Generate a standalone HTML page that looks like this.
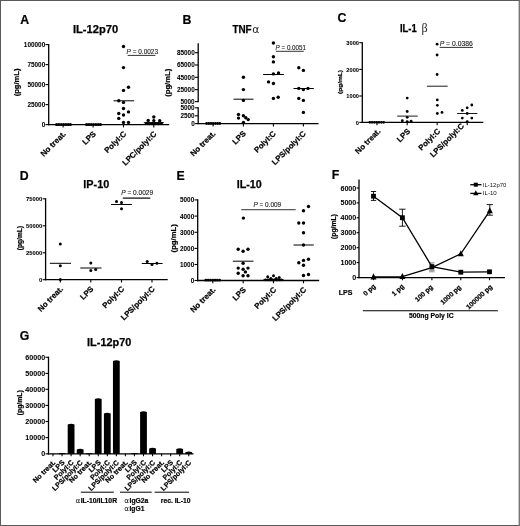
<!DOCTYPE html>
<html lang="en">
<head>
<meta charset="utf-8">
<title>Figure: cytokine production</title>
<style>
html,body{margin:0;padding:0;background:#fff;}
body{width:520px;height:526px;overflow:hidden;position:relative;}
.frame{position:absolute;left:0;top:0;width:518px;height:524px;border:1px solid #5a5a5a;border-right-color:#777;box-shadow:inset -1px 0 0 #c6c6c6;}
svg{position:absolute;left:0;top:0;display:block;font-family:"Liberation Sans",Arial,sans-serif;filter:blur(0.35px);}
</style>
</head>
<body>
<div class="frame"></div>
<svg width="520" height="526" viewBox="0 0 520 526">
<text x="20.30" y="23.80" font-size="12.3" text-anchor="start" font-weight="bold" fill="#000"  stroke="#000" stroke-width="0.2">A</text>
<text x="72.90" y="33.20" font-size="11.0" font-weight="bold" textLength="45.30" lengthAdjust="spacingAndGlyphs" stroke="#000" stroke-width="0.25">IL-12p70</text>
<line x1="48.70" y1="43.95" x2="48.70" y2="125.25" stroke="#000" stroke-width="1.3"/>
<line x1="45.50" y1="44.60" x2="48.70" y2="44.60" stroke="#000" stroke-width="1.1"/>
<text transform="translate(45.20,47.02) scale(0.94,1)" font-size="6.82" text-anchor="end" font-weight="bold" stroke="#000" stroke-width="0.06">100000</text>
<line x1="45.50" y1="64.60" x2="48.70" y2="64.60" stroke="#000" stroke-width="1.1"/>
<text transform="translate(45.20,67.02) scale(0.94,1)" font-size="6.82" text-anchor="end" font-weight="bold" stroke="#000" stroke-width="0.06">75000</text>
<line x1="45.50" y1="84.60" x2="48.70" y2="84.60" stroke="#000" stroke-width="1.1"/>
<text transform="translate(45.20,87.02) scale(0.94,1)" font-size="6.82" text-anchor="end" font-weight="bold" stroke="#000" stroke-width="0.06">50000</text>
<line x1="45.50" y1="104.60" x2="48.70" y2="104.60" stroke="#000" stroke-width="1.1"/>
<text transform="translate(45.20,107.02) scale(0.94,1)" font-size="6.82" text-anchor="end" font-weight="bold" stroke="#000" stroke-width="0.06">25000</text>
<line x1="45.50" y1="124.60" x2="48.70" y2="124.60" stroke="#000" stroke-width="1.1"/>
<text transform="translate(45.20,127.02) scale(0.94,1)" font-size="6.82" text-anchor="end" font-weight="bold" stroke="#000" stroke-width="0.06">0</text>
<line x1="48.05" y1="124.60" x2="169.20" y2="124.60" stroke="#000" stroke-width="1.3"/>
<line x1="63.10" y1="124.60" x2="63.10" y2="127.40" stroke="#000" stroke-width="1.1"/>
<line x1="93.10" y1="124.60" x2="93.10" y2="127.40" stroke="#000" stroke-width="1.1"/>
<line x1="123.50" y1="124.60" x2="123.50" y2="127.40" stroke="#000" stroke-width="1.1"/>
<line x1="153.80" y1="124.60" x2="153.80" y2="127.40" stroke="#000" stroke-width="1.1"/>
<text transform="translate(19.40,96.30) rotate(-90)" font-size="7.3" font-weight="bold" textLength="27.80" lengthAdjust="spacingAndGlyphs" stroke="#000" stroke-width="0.2">(pg/mL)</text>
<circle cx="56.60" cy="124.50" r="1.6"/>
<circle cx="58.90" cy="124.50" r="1.6"/>
<circle cx="61.20" cy="124.50" r="1.6"/>
<circle cx="63.50" cy="124.50" r="1.6"/>
<circle cx="65.80" cy="124.50" r="1.6"/>
<circle cx="68.10" cy="124.50" r="1.6"/>
<circle cx="70.40" cy="124.50" r="1.6"/>
<circle cx="86.60" cy="124.50" r="1.6"/>
<circle cx="88.90" cy="124.50" r="1.6"/>
<circle cx="91.20" cy="124.50" r="1.6"/>
<circle cx="93.50" cy="124.50" r="1.6"/>
<circle cx="95.80" cy="124.50" r="1.6"/>
<circle cx="98.10" cy="124.50" r="1.6"/>
<circle cx="100.40" cy="124.50" r="1.6"/>
<circle cx="123.50" cy="46.50" r="1.7"/>
<circle cx="123.50" cy="67.60" r="1.7"/>
<circle cx="128.50" cy="87.30" r="1.7"/>
<circle cx="123.50" cy="90.40" r="1.7"/>
<circle cx="118.80" cy="100.80" r="1.7"/>
<circle cx="123.50" cy="102.40" r="1.7"/>
<circle cx="123.50" cy="108.50" r="1.7"/>
<circle cx="128.50" cy="111.90" r="1.7"/>
<circle cx="118.80" cy="113.50" r="1.7"/>
<circle cx="123.50" cy="115.00" r="1.7"/>
<circle cx="118.80" cy="118.40" r="1.7"/>
<circle cx="123.50" cy="122.40" r="1.7"/>
<circle cx="128.50" cy="122.40" r="1.7"/>
<line x1="113.50" y1="100.80" x2="134.20" y2="100.80" stroke="#000" stroke-width="1.0"/>
<circle cx="153.80" cy="117.00" r="1.7"/>
<circle cx="148.20" cy="120.40" r="1.7"/>
<circle cx="153.80" cy="120.60" r="1.7"/>
<circle cx="159.70" cy="120.80" r="1.7"/>
<circle cx="146.60" cy="123.40" r="1.7"/>
<circle cx="149.50" cy="123.60" r="1.7"/>
<circle cx="152.30" cy="123.60" r="1.7"/>
<circle cx="155.30" cy="123.60" r="1.7"/>
<circle cx="158.20" cy="123.60" r="1.7"/>
<circle cx="161.30" cy="123.40" r="1.7"/>
<line x1="143.80" y1="122.70" x2="163.80" y2="122.70" stroke="#000" stroke-width="1.0"/>
<text x="126.60" y="53.80" font-size="6.5" fill="#1c1c1c" font-weight="normal" stroke="#1c1c1c" stroke-width="0.12" textLength="31.4" lengthAdjust="spacingAndGlyphs"><tspan font-style="italic">P</tspan> = 0.0023</text>
<line x1="127.70" y1="55.40" x2="155.40" y2="55.40" stroke="#1c1c1c" stroke-width="0.9"/>
<text transform="translate(66.40,134.40) rotate(-45)" font-size="7.9" text-anchor="end" font-weight="bold" fill="#000" stroke="#000" stroke-width="0.22">No treat.</text>
<text transform="translate(96.40,134.40) rotate(-45)" font-size="7.9" text-anchor="end" font-weight="bold" fill="#000" stroke="#000" stroke-width="0.22">LPS</text>
<text transform="translate(126.80,134.40) rotate(-45)" font-size="7.9" text-anchor="end" font-weight="bold" fill="#000" stroke="#000" stroke-width="0.22">PolyI:C</text>
<text transform="translate(157.10,134.40) rotate(-45)" font-size="7.9" text-anchor="end" font-weight="bold" fill="#000" stroke="#000" stroke-width="0.22">LPC/polyI:C</text>
<text x="182.50" y="23.80" font-size="12.3" text-anchor="start" font-weight="bold" fill="#000"  stroke="#000" stroke-width="0.2">B</text>
<text x="232.40" y="32.60" font-size="10.4" font-weight="bold" textLength="19.30" lengthAdjust="spacingAndGlyphs" stroke="#000" stroke-width="0.25">TNF</text>
<text x="252.3" y="32.6" font-size="10.8" fill="#222" font-family="DejaVu Sans, Liberation Sans, sans-serif">α</text>
<line x1="198.20" y1="43.30" x2="198.20" y2="102.20" stroke="#000" stroke-width="1.3"/>
<line x1="198.20" y1="107.20" x2="198.20" y2="124.25" stroke="#000" stroke-width="1.3"/>
<line x1="195.00" y1="52.70" x2="198.20" y2="52.70" stroke="#000" stroke-width="1.1"/>
<text transform="translate(194.70,55.12) scale(0.94,1)" font-size="6.82" text-anchor="end" font-weight="bold" stroke="#000" stroke-width="0.06">85000</text>
<line x1="195.00" y1="65.00" x2="198.20" y2="65.00" stroke="#000" stroke-width="1.1"/>
<text transform="translate(194.70,67.42) scale(0.94,1)" font-size="6.82" text-anchor="end" font-weight="bold" stroke="#000" stroke-width="0.06">65000</text>
<line x1="195.00" y1="77.30" x2="198.20" y2="77.30" stroke="#000" stroke-width="1.1"/>
<text transform="translate(194.70,79.72) scale(0.94,1)" font-size="6.82" text-anchor="end" font-weight="bold" stroke="#000" stroke-width="0.06">45000</text>
<line x1="195.00" y1="89.60" x2="198.20" y2="89.60" stroke="#000" stroke-width="1.1"/>
<text transform="translate(194.70,92.02) scale(0.94,1)" font-size="6.82" text-anchor="end" font-weight="bold" stroke="#000" stroke-width="0.06">25000</text>
<line x1="195.00" y1="101.60" x2="198.20" y2="101.60" stroke="#000" stroke-width="1.1"/>
<text transform="translate(194.70,104.02) scale(0.94,1)" font-size="6.82" text-anchor="end" font-weight="bold" stroke="#000" stroke-width="0.06">5000</text>
<line x1="195.00" y1="107.80" x2="198.20" y2="107.80" stroke="#000" stroke-width="1.1"/>
<text transform="translate(194.70,110.22) scale(0.94,1)" font-size="6.82" text-anchor="end" font-weight="bold" stroke="#000" stroke-width="0.06">5000</text>
<line x1="195.00" y1="115.80" x2="198.20" y2="115.80" stroke="#000" stroke-width="1.1"/>
<text transform="translate(194.70,118.22) scale(0.94,1)" font-size="6.82" text-anchor="end" font-weight="bold" stroke="#000" stroke-width="0.06">2500</text>
<line x1="195.00" y1="123.60" x2="198.20" y2="123.60" stroke="#000" stroke-width="1.1"/>
<text transform="translate(194.70,126.02) scale(0.94,1)" font-size="6.82" text-anchor="end" font-weight="bold" stroke="#000" stroke-width="0.06">0</text>
<line x1="197.55" y1="123.60" x2="318.50" y2="123.60" stroke="#000" stroke-width="1.3"/>
<line x1="213.10" y1="123.60" x2="213.10" y2="126.40" stroke="#000" stroke-width="1.1"/>
<line x1="243.40" y1="123.60" x2="243.40" y2="126.40" stroke="#000" stroke-width="1.1"/>
<line x1="273.40" y1="123.60" x2="273.40" y2="126.40" stroke="#000" stroke-width="1.1"/>
<line x1="303.40" y1="123.60" x2="303.40" y2="126.40" stroke="#000" stroke-width="1.1"/>
<text transform="translate(169.80,96.80) rotate(-90)" font-size="7.3" font-weight="bold" textLength="28.00" lengthAdjust="spacingAndGlyphs" stroke="#000" stroke-width="0.2">(pg/mL)</text>
<circle cx="206.60" cy="123.50" r="1.4"/>
<circle cx="208.80" cy="123.50" r="1.4"/>
<circle cx="211.00" cy="123.50" r="1.4"/>
<circle cx="213.20" cy="123.50" r="1.4"/>
<circle cx="215.40" cy="123.50" r="1.4"/>
<circle cx="217.60" cy="123.50" r="1.4"/>
<circle cx="219.80" cy="123.50" r="1.4"/>
<circle cx="243.40" cy="77.30" r="1.7"/>
<circle cx="243.40" cy="89.60" r="1.7"/>
<circle cx="243.40" cy="100.40" r="1.7"/>
<circle cx="238.50" cy="114.50" r="1.7"/>
<circle cx="243.40" cy="115.80" r="1.7"/>
<circle cx="238.50" cy="118.10" r="1.7"/>
<circle cx="245.80" cy="117.80" r="1.7"/>
<circle cx="248.20" cy="119.60" r="1.7"/>
<circle cx="243.40" cy="122.40" r="1.7"/>
<line x1="233.50" y1="99.20" x2="253.50" y2="99.20" stroke="#000" stroke-width="1.0"/>
<circle cx="273.40" cy="43.00" r="1.7"/>
<circle cx="273.40" cy="56.80" r="1.7"/>
<circle cx="273.40" cy="61.90" r="1.7"/>
<circle cx="273.40" cy="73.90" r="1.7"/>
<circle cx="278.50" cy="73.00" r="1.7"/>
<circle cx="268.50" cy="81.90" r="1.7"/>
<circle cx="273.40" cy="83.50" r="1.7"/>
<circle cx="273.40" cy="98.40" r="1.7"/>
<circle cx="278.20" cy="97.30" r="1.7"/>
<line x1="263.10" y1="74.50" x2="283.80" y2="74.50" stroke="#000" stroke-width="1.0"/>
<circle cx="298.80" cy="67.80" r="1.7"/>
<circle cx="303.40" cy="70.40" r="1.7"/>
<circle cx="298.80" cy="88.40" r="1.7"/>
<circle cx="303.40" cy="89.60" r="1.7"/>
<circle cx="308.00" cy="88.40" r="1.7"/>
<circle cx="298.80" cy="98.40" r="1.7"/>
<circle cx="303.40" cy="100.40" r="1.7"/>
<circle cx="303.40" cy="112.40" r="1.7"/>
<line x1="293.50" y1="88.50" x2="313.80" y2="88.50" stroke="#000" stroke-width="1.0"/>
<text x="275.60" y="49.90" font-size="6.5" fill="#1c1c1c" font-weight="normal" stroke="#1c1c1c" stroke-width="0.12" textLength="30.4" lengthAdjust="spacingAndGlyphs"><tspan font-style="italic">P</tspan> = 0.0051</text>
<line x1="275.80" y1="51.30" x2="303.80" y2="51.30" stroke="#1c1c1c" stroke-width="0.9"/>
<text transform="translate(216.10,134.10) rotate(-45)" font-size="7.9" text-anchor="end" font-weight="bold" fill="#000" stroke="#000" stroke-width="0.22">No treat.</text>
<text transform="translate(246.40,134.10) rotate(-45)" font-size="7.9" text-anchor="end" font-weight="bold" fill="#000" stroke="#000" stroke-width="0.22">LPS</text>
<text transform="translate(276.40,134.10) rotate(-45)" font-size="7.9" text-anchor="end" font-weight="bold" fill="#000" stroke="#000" stroke-width="0.22">PolyI:C</text>
<text transform="translate(306.40,134.10) rotate(-45)" font-size="7.9" text-anchor="end" font-weight="bold" fill="#000" stroke="#000" stroke-width="0.22">LPS/polyI:C</text>
<text x="337.60" y="21.80" font-size="12.3" text-anchor="start" font-weight="bold" fill="#000"  stroke="#000" stroke-width="0.2">C</text>
<text x="399.90" y="31.80" font-size="10.0" font-weight="bold" textLength="16.80" lengthAdjust="spacingAndGlyphs" stroke="#000" stroke-width="0.25">IL-1</text>
<text x="421.6" y="31.8" font-size="12" font-family="Liberation Serif, serif" fill="#222">β</text>
<line x1="362.30" y1="42.15" x2="362.30" y2="122.95" stroke="#000" stroke-width="1.3"/>
<line x1="359.30" y1="42.70" x2="362.30" y2="42.70" stroke="#000" stroke-width="1.1"/>
<text transform="translate(359.00,44.85) scale(0.94,1)" font-size="6.05" text-anchor="end" font-weight="bold" stroke="#000" stroke-width="0.06">3000</text>
<line x1="359.30" y1="69.40" x2="362.30" y2="69.40" stroke="#000" stroke-width="1.1"/>
<text transform="translate(359.00,71.55) scale(0.94,1)" font-size="6.05" text-anchor="end" font-weight="bold" stroke="#000" stroke-width="0.06">2000</text>
<line x1="359.30" y1="96.00" x2="362.30" y2="96.00" stroke="#000" stroke-width="1.1"/>
<text transform="translate(359.00,98.15) scale(0.94,1)" font-size="6.05" text-anchor="end" font-weight="bold" stroke="#000" stroke-width="0.06">1000</text>
<line x1="359.30" y1="122.40" x2="362.30" y2="122.40" stroke="#000" stroke-width="1.1"/>
<text transform="translate(359.00,124.55) scale(0.94,1)" font-size="6.05" text-anchor="end" font-weight="bold" stroke="#000" stroke-width="0.06">0</text>
<line x1="361.75" y1="122.40" x2="483.30" y2="122.40" stroke="#000" stroke-width="1.3"/>
<line x1="377.00" y1="122.40" x2="377.00" y2="125.20" stroke="#000" stroke-width="1.1"/>
<line x1="407.20" y1="122.40" x2="407.20" y2="125.20" stroke="#000" stroke-width="1.1"/>
<line x1="437.20" y1="122.40" x2="437.20" y2="125.20" stroke="#000" stroke-width="1.1"/>
<line x1="467.20" y1="122.40" x2="467.20" y2="125.20" stroke="#000" stroke-width="1.1"/>
<text transform="translate(342.00,94.00) rotate(-90)" font-size="6.2" font-weight="bold" textLength="24.00" lengthAdjust="spacingAndGlyphs" stroke="#000" stroke-width="0.2">(pg/mL)</text>
<circle cx="369.80" cy="122.30" r="1.35"/>
<circle cx="372.10" cy="122.30" r="1.35"/>
<circle cx="374.40" cy="122.30" r="1.35"/>
<circle cx="376.70" cy="122.30" r="1.35"/>
<circle cx="379.00" cy="122.30" r="1.35"/>
<circle cx="381.30" cy="122.30" r="1.35"/>
<circle cx="383.60" cy="122.30" r="1.35"/>
<circle cx="407.20" cy="98.10" r="1.4"/>
<circle cx="407.20" cy="111.50" r="1.4"/>
<circle cx="407.20" cy="117.30" r="1.4"/>
<circle cx="402.30" cy="120.70" r="1.4"/>
<circle cx="407.20" cy="121.60" r="1.4"/>
<circle cx="411.10" cy="121.20" r="1.4"/>
<line x1="397.20" y1="116.10" x2="417.70" y2="116.10" stroke="#000" stroke-width="0.9"/>
<circle cx="437.10" cy="44.20" r="1.4"/>
<circle cx="437.10" cy="55.00" r="1.4"/>
<circle cx="437.10" cy="74.50" r="1.4"/>
<circle cx="437.30" cy="99.90" r="1.4"/>
<circle cx="437.30" cy="105.30" r="1.4"/>
<circle cx="437.30" cy="113.50" r="1.4"/>
<circle cx="442.00" cy="112.40" r="1.4"/>
<line x1="426.90" y1="86.20" x2="447.70" y2="86.20" stroke="#000" stroke-width="0.9"/>
<circle cx="471.80" cy="105.00" r="1.4"/>
<circle cx="467.20" cy="107.80" r="1.4"/>
<circle cx="462.30" cy="110.40" r="1.4"/>
<circle cx="467.20" cy="113.50" r="1.4"/>
<circle cx="462.30" cy="118.10" r="1.4"/>
<circle cx="471.80" cy="118.10" r="1.4"/>
<circle cx="467.20" cy="121.60" r="1.4"/>
<line x1="457.20" y1="113.50" x2="477.40" y2="113.50" stroke="#000" stroke-width="0.9"/>
<text x="439.70" y="46.10" font-size="6.5" fill="#1c1c1c" font-weight="normal" stroke="#1c1c1c" stroke-width="0.12" textLength="33.1" lengthAdjust="spacingAndGlyphs"><tspan font-style="italic">P</tspan>  = 0.0386</text>
<line x1="439.70" y1="47.40" x2="473.00" y2="47.40" stroke="#1c1c1c" stroke-width="0.9"/>
<text transform="translate(381.00,131.80) rotate(-45)" font-size="7.9" text-anchor="end" font-weight="bold" fill="#000" stroke="#000" stroke-width="0.22">No treat.</text>
<text transform="translate(410.80,131.80) rotate(-45)" font-size="7.9" text-anchor="end" font-weight="bold" fill="#000" stroke="#000" stroke-width="0.22">LPS</text>
<text transform="translate(440.80,131.80) rotate(-45)" font-size="7.9" text-anchor="end" font-weight="bold" fill="#000" stroke="#000" stroke-width="0.22">PolyI:C</text>
<text transform="translate(464.50,126.50) rotate(-45)" font-size="7.9" text-anchor="end" font-weight="bold" fill="#000" stroke="#000" stroke-width="0.22">LPS/polyI:C</text>
<text x="19.80" y="179.50" font-size="12.3" text-anchor="start" font-weight="bold" fill="#000"  stroke="#000" stroke-width="0.2">D</text>
<text x="83.30" y="187.70" font-size="10.9" font-weight="bold" textLength="26.00" lengthAdjust="spacingAndGlyphs" stroke="#000" stroke-width="0.25">IP-10</text>
<line x1="45.60" y1="198.23" x2="45.60" y2="280.27" stroke="#000" stroke-width="1.3"/>
<line x1="42.60" y1="198.80" x2="45.60" y2="198.80" stroke="#000" stroke-width="1.1"/>
<text transform="translate(42.30,201.03) scale(0.94,1)" font-size="6.27" text-anchor="end" font-weight="bold" stroke="#000" stroke-width="0.06">75000</text>
<line x1="42.60" y1="225.80" x2="45.60" y2="225.80" stroke="#000" stroke-width="1.1"/>
<text transform="translate(42.30,228.03) scale(0.94,1)" font-size="6.27" text-anchor="end" font-weight="bold" stroke="#000" stroke-width="0.06">50000</text>
<line x1="42.60" y1="252.80" x2="45.60" y2="252.80" stroke="#000" stroke-width="1.1"/>
<text transform="translate(42.30,255.03) scale(0.94,1)" font-size="6.27" text-anchor="end" font-weight="bold" stroke="#000" stroke-width="0.06">25000</text>
<line x1="42.60" y1="279.70" x2="45.60" y2="279.70" stroke="#000" stroke-width="1.1"/>
<text transform="translate(42.30,281.93) scale(0.94,1)" font-size="6.27" text-anchor="end" font-weight="bold" stroke="#000" stroke-width="0.06">0</text>
<line x1="45.02" y1="279.70" x2="167.70" y2="279.70" stroke="#000" stroke-width="1.3"/>
<line x1="60.30" y1="279.70" x2="60.30" y2="282.50" stroke="#000" stroke-width="1.1"/>
<line x1="90.80" y1="279.70" x2="90.80" y2="282.50" stroke="#000" stroke-width="1.1"/>
<line x1="121.50" y1="279.70" x2="121.50" y2="282.50" stroke="#000" stroke-width="1.1"/>
<line x1="152.00" y1="279.70" x2="152.00" y2="282.50" stroke="#000" stroke-width="1.1"/>
<text transform="translate(21.80,250.30) rotate(-90)" font-size="6.4" font-weight="bold" textLength="24.40" lengthAdjust="spacingAndGlyphs" stroke="#000" stroke-width="0.2">(pg/mL)</text>
<circle cx="60.30" cy="243.90" r="1.5"/>
<circle cx="60.30" cy="265.70" r="1.5"/>
<circle cx="60.30" cy="279.60" r="1.5"/>
<line x1="49.80" y1="263.30" x2="71.00" y2="263.30" stroke="#000" stroke-width="1.0"/>
<circle cx="90.80" cy="263.10" r="1.5"/>
<circle cx="90.80" cy="270.40" r="1.5"/>
<circle cx="95.70" cy="269.60" r="1.5"/>
<line x1="80.30" y1="268.00" x2="101.50" y2="268.00" stroke="#000" stroke-width="1.0"/>
<circle cx="116.50" cy="201.50" r="1.5"/>
<circle cx="121.50" cy="202.40" r="1.5"/>
<circle cx="121.50" cy="208.80" r="1.5"/>
<line x1="111.10" y1="204.50" x2="131.80" y2="204.50" stroke="#000" stroke-width="1.0"/>
<circle cx="147.20" cy="261.50" r="1.5"/>
<circle cx="152.00" cy="264.50" r="1.5"/>
<circle cx="156.90" cy="263.20" r="1.5"/>
<line x1="141.80" y1="263.50" x2="162.60" y2="263.50" stroke="#000" stroke-width="1.0"/>
<text x="121.20" y="195.00" font-size="6.5" fill="#1c1c1c" font-weight="normal" stroke="#1c1c1c" stroke-width="0.12" textLength="32" lengthAdjust="spacingAndGlyphs"><tspan font-style="italic">P</tspan> = 0.0029</text>
<line x1="122.80" y1="198.10" x2="150.30" y2="198.10" stroke="#000" stroke-width="1.2"/>
<text transform="translate(63.60,289.50) rotate(-45)" font-size="7.9" text-anchor="end" font-weight="bold" fill="#000" stroke="#000" stroke-width="0.22">No treat.</text>
<text transform="translate(94.10,289.50) rotate(-45)" font-size="7.9" text-anchor="end" font-weight="bold" fill="#000" stroke="#000" stroke-width="0.22">LPS</text>
<text transform="translate(124.80,289.50) rotate(-45)" font-size="7.9" text-anchor="end" font-weight="bold" fill="#000" stroke="#000" stroke-width="0.22">PolyI:C</text>
<text transform="translate(155.30,289.50) rotate(-45)" font-size="7.9" text-anchor="end" font-weight="bold" fill="#000" stroke="#000" stroke-width="0.22">LPS/polyI:C</text>
<text x="176.60" y="180.20" font-size="12.3" text-anchor="start" font-weight="bold" fill="#000"  stroke="#000" stroke-width="0.2">E</text>
<text x="236.70" y="188.40" font-size="10.9" font-weight="bold" textLength="25.10" lengthAdjust="spacingAndGlyphs" stroke="#000" stroke-width="0.25">IL-10</text>
<line x1="197.70" y1="199.25" x2="197.70" y2="281.15" stroke="#000" stroke-width="1.3"/>
<line x1="194.50" y1="199.90" x2="197.70" y2="199.90" stroke="#000" stroke-width="1.1"/>
<text transform="translate(194.20,202.30) scale(0.94,1)" font-size="6.77" text-anchor="end" font-weight="bold" stroke="#000" stroke-width="0.06">5000</text>
<line x1="194.50" y1="216.10" x2="197.70" y2="216.10" stroke="#000" stroke-width="1.1"/>
<text transform="translate(194.20,218.50) scale(0.94,1)" font-size="6.77" text-anchor="end" font-weight="bold" stroke="#000" stroke-width="0.06">4000</text>
<line x1="194.50" y1="232.30" x2="197.70" y2="232.30" stroke="#000" stroke-width="1.1"/>
<text transform="translate(194.20,234.70) scale(0.94,1)" font-size="6.77" text-anchor="end" font-weight="bold" stroke="#000" stroke-width="0.06">3000</text>
<line x1="194.50" y1="248.40" x2="197.70" y2="248.40" stroke="#000" stroke-width="1.1"/>
<text transform="translate(194.20,250.80) scale(0.94,1)" font-size="6.77" text-anchor="end" font-weight="bold" stroke="#000" stroke-width="0.06">2000</text>
<line x1="194.50" y1="264.50" x2="197.70" y2="264.50" stroke="#000" stroke-width="1.1"/>
<text transform="translate(194.20,266.90) scale(0.94,1)" font-size="6.77" text-anchor="end" font-weight="bold" stroke="#000" stroke-width="0.06">1000</text>
<line x1="194.50" y1="280.50" x2="197.70" y2="280.50" stroke="#000" stroke-width="1.1"/>
<text transform="translate(194.20,282.90) scale(0.94,1)" font-size="6.77" text-anchor="end" font-weight="bold" stroke="#000" stroke-width="0.06">0</text>
<line x1="197.05" y1="280.50" x2="319.20" y2="280.50" stroke="#000" stroke-width="1.3"/>
<line x1="212.80" y1="280.50" x2="212.80" y2="283.30" stroke="#000" stroke-width="1.1"/>
<line x1="243.20" y1="280.50" x2="243.20" y2="283.30" stroke="#000" stroke-width="1.1"/>
<line x1="273.50" y1="280.50" x2="273.50" y2="283.30" stroke="#000" stroke-width="1.1"/>
<line x1="303.50" y1="280.50" x2="303.50" y2="283.30" stroke="#000" stroke-width="1.1"/>
<text transform="translate(175.90,252.40) rotate(-90)" font-size="7.2" font-weight="bold" textLength="28.20" lengthAdjust="spacingAndGlyphs" stroke="#000" stroke-width="0.2">(pg/mL)</text>
<circle cx="205.80" cy="280.20" r="1.4"/>
<circle cx="208.10" cy="280.20" r="1.4"/>
<circle cx="210.40" cy="280.20" r="1.4"/>
<circle cx="212.70" cy="280.20" r="1.4"/>
<circle cx="215.00" cy="280.20" r="1.4"/>
<circle cx="217.30" cy="280.20" r="1.4"/>
<circle cx="219.60" cy="280.20" r="1.4"/>
<circle cx="243.40" cy="218.10" r="1.7"/>
<circle cx="238.20" cy="249.20" r="1.7"/>
<circle cx="243.10" cy="251.20" r="1.7"/>
<circle cx="248.00" cy="249.20" r="1.7"/>
<circle cx="243.10" cy="263.20" r="1.7"/>
<circle cx="238.20" cy="268.10" r="1.7"/>
<circle cx="243.10" cy="269.20" r="1.7"/>
<circle cx="248.00" cy="268.10" r="1.7"/>
<circle cx="245.40" cy="271.90" r="1.7"/>
<circle cx="238.20" cy="273.20" r="1.7"/>
<circle cx="243.10" cy="275.80" r="1.7"/>
<circle cx="248.00" cy="275.80" r="1.7"/>
<line x1="232.80" y1="261.20" x2="253.50" y2="261.20" stroke="#000" stroke-width="1.0"/>
<circle cx="265.60" cy="279.90" r="1.4"/>
<circle cx="267.85" cy="279.90" r="1.4"/>
<circle cx="270.10" cy="279.90" r="1.4"/>
<circle cx="272.35" cy="279.90" r="1.4"/>
<circle cx="274.60" cy="279.90" r="1.4"/>
<circle cx="276.85" cy="279.90" r="1.4"/>
<circle cx="279.10" cy="279.90" r="1.4"/>
<circle cx="281.35" cy="279.90" r="1.4"/>
<circle cx="267.70" cy="276.70" r="1.5"/>
<circle cx="273.50" cy="275.70" r="1.5"/>
<circle cx="279.20" cy="277.50" r="1.5"/>
<circle cx="270.80" cy="278.50" r="1.5"/>
<circle cx="276.20" cy="278.50" r="1.5"/>
<line x1="263.50" y1="279.60" x2="283.50" y2="279.60" stroke="#000" stroke-width="1.0"/>
<circle cx="308.50" cy="206.50" r="1.7"/>
<circle cx="303.50" cy="210.70" r="1.7"/>
<circle cx="298.80" cy="223.00" r="1.7"/>
<circle cx="303.50" cy="223.00" r="1.7"/>
<circle cx="303.50" cy="232.70" r="1.7"/>
<circle cx="303.50" cy="245.00" r="1.7"/>
<circle cx="308.50" cy="259.30" r="1.7"/>
<circle cx="303.50" cy="260.40" r="1.7"/>
<circle cx="298.80" cy="262.70" r="1.7"/>
<circle cx="303.50" cy="265.30" r="1.7"/>
<circle cx="303.50" cy="275.50" r="1.7"/>
<circle cx="308.50" cy="274.50" r="1.7"/>
<line x1="293.50" y1="245.00" x2="313.80" y2="245.00" stroke="#000" stroke-width="1.0"/>
<text x="253.40" y="207.30" font-size="6.5" fill="#1c1c1c" font-weight="normal" stroke="#1c1c1c" stroke-width="0.12" textLength="27.8" lengthAdjust="spacingAndGlyphs"><tspan font-style="italic">P</tspan> = 0.009</text>
<line x1="241.20" y1="209.60" x2="295.70" y2="209.60" stroke="#5a5a5a" stroke-width="1.3"/>
<text transform="translate(216.10,290.30) rotate(-45)" font-size="7.9" text-anchor="end" font-weight="bold" fill="#000" stroke="#000" stroke-width="0.22">No treat.</text>
<text transform="translate(246.50,290.30) rotate(-45)" font-size="7.9" text-anchor="end" font-weight="bold" fill="#000" stroke="#000" stroke-width="0.22">LPS</text>
<text transform="translate(276.80,290.30) rotate(-45)" font-size="7.9" text-anchor="end" font-weight="bold" fill="#000" stroke="#000" stroke-width="0.22">PolyI:C</text>
<text transform="translate(306.80,290.30) rotate(-45)" font-size="7.9" text-anchor="end" font-weight="bold" fill="#000" stroke="#000" stroke-width="0.22">LPS/polyI:C</text>
<text x="331.70" y="178.50" font-size="12.3" text-anchor="start" font-weight="bold" fill="#000"  stroke="#000" stroke-width="0.2">F</text>
<line x1="359.00" y1="179.50" x2="359.00" y2="278.30" stroke="#000" stroke-width="1.3"/>
<line x1="356.60" y1="188.00" x2="359.00" y2="188.00" stroke="#000" stroke-width="1.1"/>
<text transform="translate(356.30,190.54) scale(1.0,1)" font-size="7.15" text-anchor="end" font-weight="bold" stroke="#000" stroke-width="0.06">6000</text>
<line x1="356.60" y1="202.90" x2="359.00" y2="202.90" stroke="#000" stroke-width="1.1"/>
<text transform="translate(356.30,205.44) scale(1.0,1)" font-size="7.15" text-anchor="end" font-weight="bold" stroke="#000" stroke-width="0.06">5000</text>
<line x1="356.60" y1="217.80" x2="359.00" y2="217.80" stroke="#000" stroke-width="1.1"/>
<text transform="translate(356.30,220.34) scale(1.0,1)" font-size="7.15" text-anchor="end" font-weight="bold" stroke="#000" stroke-width="0.06">4000</text>
<line x1="356.60" y1="232.70" x2="359.00" y2="232.70" stroke="#000" stroke-width="1.1"/>
<text transform="translate(356.30,235.24) scale(1.0,1)" font-size="7.15" text-anchor="end" font-weight="bold" stroke="#000" stroke-width="0.06">3000</text>
<line x1="356.60" y1="247.70" x2="359.00" y2="247.70" stroke="#000" stroke-width="1.1"/>
<text transform="translate(356.30,250.24) scale(1.0,1)" font-size="7.15" text-anchor="end" font-weight="bold" stroke="#000" stroke-width="0.06">2000</text>
<line x1="356.60" y1="262.60" x2="359.00" y2="262.60" stroke="#000" stroke-width="1.1"/>
<text transform="translate(356.30,265.14) scale(1.0,1)" font-size="7.15" text-anchor="end" font-weight="bold" stroke="#000" stroke-width="0.06">1000</text>
<line x1="356.60" y1="277.60" x2="359.00" y2="277.60" stroke="#000" stroke-width="1.1"/>
<text transform="translate(356.30,280.14) scale(1.0,1)" font-size="7.15" text-anchor="end" font-weight="bold" stroke="#000" stroke-width="0.06">0</text>
<line x1="358.30" y1="277.60" x2="505.00" y2="277.60" stroke="#000" stroke-width="1.3"/>
<line x1="373.50" y1="277.60" x2="373.50" y2="280.20" stroke="#000" stroke-width="1.1"/>
<line x1="402.40" y1="277.60" x2="402.40" y2="280.20" stroke="#000" stroke-width="1.1"/>
<line x1="431.90" y1="277.60" x2="431.90" y2="280.20" stroke="#000" stroke-width="1.1"/>
<line x1="460.80" y1="277.60" x2="460.80" y2="280.20" stroke="#000" stroke-width="1.1"/>
<line x1="489.50" y1="277.60" x2="489.50" y2="280.20" stroke="#000" stroke-width="1.1"/>
<text transform="translate(336.00,239.00) rotate(-90)" font-size="6.5" font-weight="bold" textLength="24.80" lengthAdjust="spacingAndGlyphs" stroke="#000" stroke-width="0.2">(pg/mL)</text>
<line x1="373.50" y1="191.50" x2="373.50" y2="200.40" stroke="#000" stroke-width="0.9"/>
<line x1="370.90" y1="191.50" x2="376.10" y2="191.50" stroke="#000" stroke-width="0.9"/>
<line x1="370.90" y1="200.40" x2="376.10" y2="200.40" stroke="#000" stroke-width="0.9"/>
<line x1="402.40" y1="209.20" x2="402.40" y2="226.20" stroke="#000" stroke-width="0.9"/>
<line x1="399.20" y1="209.20" x2="405.60" y2="209.20" stroke="#000" stroke-width="0.9"/>
<line x1="399.20" y1="226.20" x2="405.60" y2="226.20" stroke="#000" stroke-width="0.9"/>
<line x1="431.90" y1="262.80" x2="431.90" y2="271.80" stroke="#888" stroke-width="0.9"/>
<line x1="429.10" y1="262.80" x2="434.70" y2="262.80" stroke="#888" stroke-width="0.9"/>
<line x1="429.10" y1="271.80" x2="434.70" y2="271.80" stroke="#888" stroke-width="0.9"/>
<polygon points="431.90,264.70 428.90,270.80 434.90,270.80" fill="#888"/>
<line x1="489.80" y1="204.60" x2="489.80" y2="215.20" stroke="#000" stroke-width="0.9"/>
<line x1="486.70" y1="204.60" x2="492.90" y2="204.60" stroke="#000" stroke-width="0.9"/>
<line x1="486.70" y1="215.20" x2="492.90" y2="215.20" stroke="#000" stroke-width="0.9"/>
<polyline fill="none" stroke="#000" stroke-width="1.3" points="373.5,276.9 402.4,276.6 431.9,267.6 460.8,253.8 489.8,210.8"/>
<polyline fill="none" stroke="#000" stroke-width="1.3" points="373.5,196.2 402.4,217.7 431.9,266.6 460.8,272.2 489.5,271.8"/>
<polygon points="373.50,273.30 370.50,279.40 376.50,279.40" fill="#000"/>
<polygon points="402.40,273.00 399.40,279.10 405.40,279.10" fill="#000"/>
<polygon points="460.80,250.20 457.80,256.30 463.80,256.30" fill="#000"/>
<polygon points="489.80,207.20 486.80,213.30 492.80,213.30" fill="#000"/>
<rect x="371.10" y="193.80" width="4.8" height="4.8"/>
<rect x="400.00" y="215.30" width="4.8" height="4.8"/>
<rect x="429.50" y="264.20" width="4.8" height="4.8"/>
<rect x="458.40" y="269.80" width="4.8" height="4.8"/>
<rect x="487.10" y="269.40" width="4.8" height="4.8"/>
<line x1="470.30" y1="184.70" x2="481.50" y2="184.70" stroke="#000" stroke-width="1.3"/>
<rect x="473.8" y="182.7" width="4.0" height="4.0"/>
<line x1="470.30" y1="193.40" x2="481.50" y2="193.40" stroke="#000" stroke-width="1.3"/>
<polygon points="475.80,190.20 473.10,195.30 478.50,195.30" fill="#000"/>
<text x="482.80" y="186.60" font-size="5.9" text-anchor="start" font-weight="normal" fill="#111" textLength="23.6" lengthAdjust="spacingAndGlyphs">IL-12p70</text>
<text x="482.80" y="195.20" font-size="5.9" text-anchor="start" font-weight="normal" fill="#111" textLength="14" lengthAdjust="spacingAndGlyphs">IL-10</text>
<text x="338.80" y="295.00" font-size="7.0" text-anchor="start" font-weight="bold" fill="#000"  stroke="#000" stroke-width="0.2">LPS</text>
<text transform="translate(376.00,286.80) rotate(-43)" font-size="6.8" text-anchor="end" font-weight="bold" fill="#000" stroke="#000" stroke-width="0.22">0 pg</text>
<text transform="translate(404.60,287.00) rotate(-43)" font-size="6.8" text-anchor="end" font-weight="bold" fill="#000" stroke="#000" stroke-width="0.22">1 pg</text>
<text transform="translate(433.30,287.60) rotate(-43)" font-size="6.8" text-anchor="end" font-weight="bold" fill="#000" stroke="#000" stroke-width="0.22">100 pg</text>
<text transform="translate(461.60,287.80) rotate(-43)" font-size="6.8" text-anchor="end" font-weight="bold" fill="#000" stroke="#000" stroke-width="0.22">1000 pg</text>
<text transform="translate(492.80,287.40) rotate(-43)" font-size="6.8" text-anchor="end" font-weight="bold" fill="#000" stroke="#000" stroke-width="0.22">100000 pg</text>
<line x1="362.90" y1="310.80" x2="497.90" y2="310.80" stroke="#000" stroke-width="1.1"/>
<text x="431.30" y="318.00" font-size="6.8" text-anchor="middle" font-weight="bold" fill="#000"  stroke="#000" stroke-width="0.2">500ng Poly IC</text>
<text x="19.80" y="339.50" font-size="12.3" text-anchor="start" font-weight="bold" fill="#000"  stroke="#000" stroke-width="0.2">G</text>
<text x="87.10" y="345.80" font-size="10.9" font-weight="bold" textLength="44.20" lengthAdjust="spacingAndGlyphs" stroke="#000" stroke-width="0.25">IL-12p70</text>
<line x1="48.50" y1="356.65" x2="48.50" y2="454.45" stroke="#000" stroke-width="1.3"/>
<line x1="45.50" y1="357.30" x2="48.50" y2="357.30" stroke="#000" stroke-width="1.1"/>
<text transform="translate(45.20,359.99) scale(0.94,1)" font-size="7.59" text-anchor="end" font-weight="bold" stroke="#000" stroke-width="0.06">60000</text>
<line x1="45.50" y1="373.40" x2="48.50" y2="373.40" stroke="#000" stroke-width="1.1"/>
<text transform="translate(45.20,376.09) scale(0.94,1)" font-size="7.59" text-anchor="end" font-weight="bold" stroke="#000" stroke-width="0.06">50000</text>
<line x1="45.50" y1="389.30" x2="48.50" y2="389.30" stroke="#000" stroke-width="1.1"/>
<text transform="translate(45.20,391.99) scale(0.94,1)" font-size="7.59" text-anchor="end" font-weight="bold" stroke="#000" stroke-width="0.06">40000</text>
<line x1="45.50" y1="405.40" x2="48.50" y2="405.40" stroke="#000" stroke-width="1.1"/>
<text transform="translate(45.20,408.09) scale(0.94,1)" font-size="7.59" text-anchor="end" font-weight="bold" stroke="#000" stroke-width="0.06">30000</text>
<line x1="45.50" y1="421.50" x2="48.50" y2="421.50" stroke="#000" stroke-width="1.1"/>
<text transform="translate(45.20,424.19) scale(0.94,1)" font-size="7.59" text-anchor="end" font-weight="bold" stroke="#000" stroke-width="0.06">20000</text>
<line x1="45.50" y1="437.60" x2="48.50" y2="437.60" stroke="#000" stroke-width="1.1"/>
<text transform="translate(45.20,440.29) scale(0.94,1)" font-size="7.59" text-anchor="end" font-weight="bold" stroke="#000" stroke-width="0.06">10000</text>
<line x1="45.50" y1="453.80" x2="48.50" y2="453.80" stroke="#000" stroke-width="1.1"/>
<text transform="translate(45.20,456.49) scale(0.94,1)" font-size="7.59" text-anchor="end" font-weight="bold" stroke="#000" stroke-width="0.06">0</text>
<line x1="47.85" y1="453.80" x2="193.50" y2="453.80" stroke="#000" stroke-width="1.3"/>
<line x1="53.00" y1="453.80" x2="53.00" y2="456.20" stroke="#000" stroke-width="1.1"/>
<line x1="62.05" y1="453.80" x2="62.05" y2="456.20" stroke="#000" stroke-width="1.1"/>
<line x1="71.10" y1="453.80" x2="71.10" y2="456.20" stroke="#000" stroke-width="1.1"/>
<line x1="80.15" y1="453.80" x2="80.15" y2="456.20" stroke="#000" stroke-width="1.1"/>
<line x1="89.20" y1="453.80" x2="89.20" y2="456.20" stroke="#000" stroke-width="1.1"/>
<line x1="98.25" y1="453.80" x2="98.25" y2="456.20" stroke="#000" stroke-width="1.1"/>
<line x1="107.30" y1="453.80" x2="107.30" y2="456.20" stroke="#000" stroke-width="1.1"/>
<line x1="116.35" y1="453.80" x2="116.35" y2="456.20" stroke="#000" stroke-width="1.1"/>
<line x1="125.40" y1="453.80" x2="125.40" y2="456.20" stroke="#000" stroke-width="1.1"/>
<line x1="134.45" y1="453.80" x2="134.45" y2="456.20" stroke="#000" stroke-width="1.1"/>
<line x1="143.50" y1="453.80" x2="143.50" y2="456.20" stroke="#000" stroke-width="1.1"/>
<line x1="152.55" y1="453.80" x2="152.55" y2="456.20" stroke="#000" stroke-width="1.1"/>
<line x1="161.60" y1="453.80" x2="161.60" y2="456.20" stroke="#000" stroke-width="1.1"/>
<line x1="170.65" y1="453.80" x2="170.65" y2="456.20" stroke="#000" stroke-width="1.1"/>
<line x1="179.70" y1="453.80" x2="179.70" y2="456.20" stroke="#000" stroke-width="1.1"/>
<line x1="188.75" y1="453.80" x2="188.75" y2="456.20" stroke="#000" stroke-width="1.1"/>
<text transform="translate(22.00,415.30) rotate(-90)" font-size="6.6" font-weight="bold" textLength="25.00" lengthAdjust="spacingAndGlyphs" stroke="#000" stroke-width="0.2">(pg/mL)</text>
<rect x="58.85" y="453.00" width="6.4" height="1.10"/>
<path d="M67.70,454.10 V424.50 Q71.10,423.00 74.50,424.50 V454.10 Z"/>
<path d="M76.75,454.10 V449.50 Q80.15,448.00 83.55,449.50 V454.10 Z"/>
<rect x="86.00" y="453.20" width="6.4" height="0.90"/>
<path d="M94.85,454.10 V399.10 Q98.25,397.60 101.65,399.10 V454.10 Z"/>
<path d="M103.90,454.10 V413.60 Q107.30,412.10 110.70,413.60 V454.10 Z"/>
<path d="M112.95,454.10 V361.10 Q116.35,359.60 119.75,361.10 V454.10 Z"/>
<rect x="131.25" y="453.10" width="6.4" height="1.00"/>
<path d="M140.10,454.10 V412.10 Q143.50,410.60 146.90,412.10 V454.10 Z"/>
<path d="M149.15,454.10 V448.40 Q152.55,446.90 155.95,448.40 V454.10 Z"/>
<path d="M176.30,454.10 V449.10 Q179.70,447.60 183.10,449.10 V454.10 Z"/>
<path d="M185.35,454.10 V452.20 Q188.75,450.70 192.15,452.20 V454.10 Z"/>
<text transform="translate(56.00,463.00) rotate(-45)" font-size="7.1" text-anchor="end" font-weight="bold" fill="#000" stroke="#000" stroke-width="0.22">No treat.</text>
<text transform="translate(65.05,463.00) rotate(-45)" font-size="7.1" text-anchor="end" font-weight="bold" fill="#000" stroke="#000" stroke-width="0.22">LPS</text>
<text transform="translate(74.10,463.00) rotate(-45)" font-size="7.1" text-anchor="end" font-weight="bold" fill="#000" stroke="#000" stroke-width="0.22">PolyI:C</text>
<text transform="translate(83.15,463.00) rotate(-45)" font-size="7.1" text-anchor="end" font-weight="bold" fill="#000" stroke="#000" stroke-width="0.22">LPS/polyI:C</text>
<text transform="translate(92.20,463.00) rotate(-45)" font-size="7.1" text-anchor="end" font-weight="bold" fill="#000" stroke="#000" stroke-width="0.22">No treat.</text>
<text transform="translate(101.25,463.00) rotate(-45)" font-size="7.1" text-anchor="end" font-weight="bold" fill="#000" stroke="#000" stroke-width="0.22">LPS</text>
<text transform="translate(110.30,463.00) rotate(-45)" font-size="7.1" text-anchor="end" font-weight="bold" fill="#000" stroke="#000" stroke-width="0.22">PolyI:C</text>
<text transform="translate(119.35,463.00) rotate(-45)" font-size="7.1" text-anchor="end" font-weight="bold" fill="#000" stroke="#000" stroke-width="0.22">LPS/polyI:C</text>
<text transform="translate(128.40,463.00) rotate(-45)" font-size="7.1" text-anchor="end" font-weight="bold" fill="#000" stroke="#000" stroke-width="0.22">No treat.</text>
<text transform="translate(137.45,463.00) rotate(-45)" font-size="7.1" text-anchor="end" font-weight="bold" fill="#000" stroke="#000" stroke-width="0.22">LPS</text>
<text transform="translate(146.50,463.00) rotate(-45)" font-size="7.1" text-anchor="end" font-weight="bold" fill="#000" stroke="#000" stroke-width="0.22">PolyI:C</text>
<text transform="translate(155.55,463.00) rotate(-45)" font-size="7.1" text-anchor="end" font-weight="bold" fill="#000" stroke="#000" stroke-width="0.22">LPS/polyI:C</text>
<text transform="translate(164.60,463.00) rotate(-45)" font-size="7.1" text-anchor="end" font-weight="bold" fill="#000" stroke="#000" stroke-width="0.22">No treat.</text>
<text transform="translate(173.65,463.00) rotate(-45)" font-size="7.1" text-anchor="end" font-weight="bold" fill="#000" stroke="#000" stroke-width="0.22">LPS</text>
<text transform="translate(182.70,463.00) rotate(-45)" font-size="7.1" text-anchor="end" font-weight="bold" fill="#000" stroke="#000" stroke-width="0.22">PolyI:C</text>
<text transform="translate(191.75,463.00) rotate(-45)" font-size="7.1" text-anchor="end" font-weight="bold" fill="#000" stroke="#000" stroke-width="0.22">LPS/polyI:C</text>
<line x1="80.80" y1="492.20" x2="113.80" y2="492.20" stroke="#000" stroke-width="1.0"/>
<line x1="120.00" y1="492.20" x2="151.70" y2="492.20" stroke="#000" stroke-width="1.0"/>
<line x1="154.60" y1="492.20" x2="189.00" y2="492.20" stroke="#000" stroke-width="1.0"/>
<text x="75.40" y="503.10" font-size="7.3" font-weight="normal" fill="#111" font-family="DejaVu Sans, Liberation Sans, sans-serif">α</text>
<text x="80.70" y="503.10" font-size="7.0" text-anchor="start" font-weight="bold" fill="#000" textLength="36.4" lengthAdjust="spacingAndGlyphs" stroke="#000" stroke-width="0.2">IL-10/IL10R</text>
<text x="124.20" y="503.10" font-size="7.3" font-weight="normal" fill="#111" font-family="DejaVu Sans, Liberation Sans, sans-serif">α</text>
<text x="129.50" y="503.10" font-size="7.0" text-anchor="start" font-weight="bold" fill="#000" textLength="18.8" lengthAdjust="spacingAndGlyphs" stroke="#000" stroke-width="0.2">IgG2a</text>
<text x="124.20" y="511.10" font-size="7.3" font-weight="normal" fill="#111" font-family="DejaVu Sans, Liberation Sans, sans-serif">α</text>
<text x="129.50" y="511.10" font-size="7.0" text-anchor="start" font-weight="bold" fill="#000" textLength="14.9" lengthAdjust="spacingAndGlyphs" stroke="#000" stroke-width="0.2">IgG1</text>
<text x="160.80" y="503.10" font-size="7.0" text-anchor="start" font-weight="bold" fill="#000" textLength="29.6" lengthAdjust="spacingAndGlyphs" stroke="#000" stroke-width="0.2">rec. IL-10</text>
</svg>
</body>
</html>
